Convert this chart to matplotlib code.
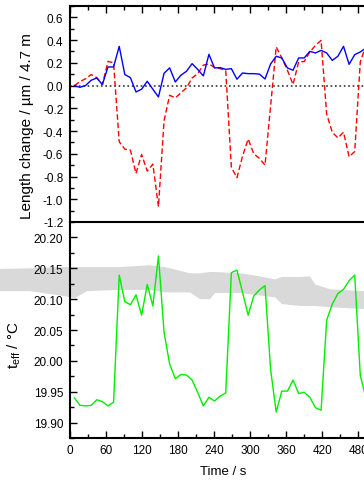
import matplotlib
matplotlib.use("Agg")
from matplotlib import pyplot as plt
from matplotlib.ticker import MultipleLocator

plt.rcParams["font.family"] = ["Liberation Sans", "DejaVu Sans"]
plt.rcParams["mathtext.fontset"] = "custom"
plt.rcParams["mathtext.rm"] = "Liberation Sans"

# sample times (s)
t = [8.0, 17.3, 26.6, 36.0, 45.3, 54.6, 63.9, 73.2, 82.6, 91.9,
     101.2, 110.5, 119.8, 129.2, 138.5, 147.8, 157.1, 166.4, 175.8, 185.1,
     194.4, 203.7, 213.0, 222.4, 231.7, 241.0, 250.3, 259.6, 269.0, 278.3,
     287.6, 296.9, 306.2, 315.6, 324.9, 334.2, 343.5, 352.8, 362.2, 371.5,
     380.8, 390.1, 399.4, 408.8, 418.1, 427.4, 436.7, 446.0, 455.4, 464.7,
     474.0, 483.3, 492.6]

# length change, blue solid
blue = [0.0, -0.015, 0.0, 0.047, 0.067, 0.009, 0.164, 0.164, 0.345, 0.097,
        0.070, -0.056, -0.032, 0.038, -0.032, -0.100, 0.108, 0.156, 0.032, 0.091,
        0.126, 0.193, 0.143, 0.085, 0.275, 0.155, 0.158, 0.143, 0.149, 0.056,
        0.111, 0.105, 0.105, 0.101, 0.058, 0.19, 0.258, 0.243, 0.155, 0.135,
        0.243, 0.243, 0.301, 0.287, 0.310, 0.287, 0.222, 0.258, 0.345, 0.187,
        0.272, 0.296, 0.33]

# length change, red dashed
red = [0.0, 0.035, 0.06, 0.097, 0.07, 0.009, 0.213, 0.2, -0.494, -0.559,
       -0.568, -0.773, -0.606, -0.752, -0.691, -1.065, -0.31, -0.085, -0.108, -0.064,
       -0.02, 0.067, 0.105, 0.18, 0.19, 0.16, 0.149, 0.134, -0.72, -0.81,
       -0.62, -0.47, -0.60, -0.64, -0.70, -0.18, 0.34, 0.243, 0.134, 0.01,
       0.208, 0.212, 0.296, 0.354, 0.398, -0.25, -0.41, -0.46, -0.41, -0.626,
       -0.58, 0.21, 0.35]

# effective temperature, green
green = [19.940, 19.928, 19.927, 19.928, 19.937, 19.934, 19.927, 19.933, 20.139, 20.096,
         20.091, 20.107, 20.074, 20.124, 20.089, 20.170, 20.046, 19.995, 19.971, 19.978,
         19.977, 19.969, 19.949, 19.927, 19.941, 19.935, 19.943, 19.948, 20.143, 20.147,
         20.111, 20.074, 20.105, 20.115, 20.122, 19.986, 19.917, 19.951, 19.951, 19.969,
         19.947, 19.949, 19.941, 19.924, 19.920, 20.066, 20.092, 20.109, 20.116, 20.130,
         20.139, 19.976, 19.940]

# grey smear across the lower panel
band_t = [-115.5, -65.6, -15.8, 9.1, 29.1, 83.9, 133.8, 158.7, 200.3, 216.9,
          233.5, 241.8, 283.4, 316.6, 341.6, 353.2, 383.1, 399.7, 408.1, 433.0, 489.5]
band_hi = [20.149, 20.150, 20.152, 20.152, 20.152, 20.152, 20.155, 20.152, 20.142, 20.142,
           20.144, 20.144, 20.142, 20.137, 20.132, 20.136, 20.136, 20.137, 20.124, 20.116, 20.113]
band_lo = [20.113, 20.113, 20.106, 20.102, 20.113, 20.115, 20.115, 20.111, 20.111, 20.100,
           20.100, 20.110, 20.110, 20.106, 20.103, 20.092, 20.089, 20.089, 20.089, 20.087, 20.084]

fig = plt.figure(figsize=(3.64, 4.81), dpi=100)
ax1 = fig.add_axes([0.191, 0.5364, 0.843, 0.449])
ax2 = fig.add_axes([0.191, 0.0873, 0.843, 0.449])

ax1.axhline(0, color="#333333", linestyle=":", linewidth=1.2)
ax1.plot(t, red, color="#ff0000", linewidth=1.0, dashes=(4, 2))
ax1.plot(t, blue, color="#0000ff", linewidth=1.0)
ax1.set_xlim(0, 510)
ax1.set_ylim(-1.2, 0.7)
ax1.yaxis.set_major_locator(MultipleLocator(0.2))
ax1.yaxis.set_minor_locator(MultipleLocator(0.1))
ax1.xaxis.set_major_locator(MultipleLocator(60))
ax1.xaxis.set_minor_locator(MultipleLocator(30))
ax1.yaxis.set_major_formatter(matplotlib.ticker.FormatStrFormatter("%.1f"))
ax1.tick_params(axis="x", which="both", direction="in", top=True, bottom=False,
                labelbottom=False, labeltop=False)
ax1.spines["bottom"].set_visible(False)
ax1.set_ylabel("Length change / µm / 4.7 m", fontsize=11)
ax1.yaxis.set_label_coords(-0.117, 0.451)

ax2.fill_between(band_t, band_lo, band_hi, color="#d9d9d9", linewidth=0,
                 clip_on=False, zorder=0.5)
ax2.plot(t, green, color="#00ee00", linewidth=1.0)
ax2.set_xlim(0, 510)
ax2.set_ylim(19.875, 20.225)
ax2.yaxis.set_major_locator(MultipleLocator(0.05))
ax2.yaxis.set_minor_locator(MultipleLocator(0.025))
ax2.yaxis.set_major_formatter(matplotlib.ticker.FormatStrFormatter("%.2f"))
ax2.xaxis.set_major_locator(MultipleLocator(60))
ax2.xaxis.set_minor_locator(MultipleLocator(30))
ax2.tick_params(axis="x", which="both", direction="in", top=False, bottom=True)
ax2.set_xlabel("Time / s", fontsize=9.5, labelpad=6)
ax2.set_ylabel(r"t$_{\mathrm{eff}}$ / °C", fontsize=11)
ax2.yaxis.set_label_coords(-0.1515, 0.435)

for ax in (ax1, ax2):
    ax.tick_params(axis="both", which="major", length=5, width=1, labelsize=8.5, pad=4.5)
    ax.tick_params(axis="both", which="minor", length=3, width=1)
    ax.tick_params(axis="y", which="both", direction="in", right=False)
    for s in ax.spines.values():
        s.set_linewidth(1.5)

fig.savefig("out.png", dpi=100)
plt.close()
